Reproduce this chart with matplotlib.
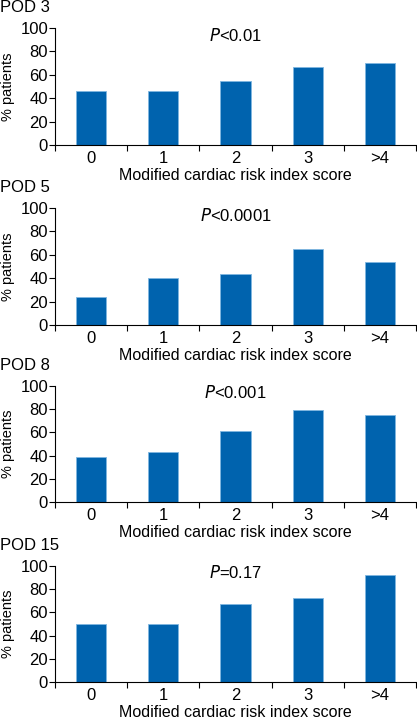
import numpy as np
import matplotlib.pyplot as plt

plt.rcParams['font.family'] = ['Liberation Sans', 'DejaVu Sans']

categories = ['0', '1', '2', '3', '>4']
panel_titles = ['POD 3', 'POD 5', 'POD 8', 'POD 15']
p_labels = ['<0.01', '<0.0001', '<0.001', '=0.17']
pod3 = [46, 46, 55, 67, 70]
pod5 = [24, 40, 44, 65, 54]
pod8 = [39, 43, 61, 79, 75]
pod15 = [50, 50, 67, 72, 92]
all_values = [pod3, pod5, pod8, pod15]

W, H = 417, 720
fig = plt.figure(figsize=(W / 100, H / 100), dpi=100)

# axes boxes in pixels: (top, bottom)
boxes = [(28, 145), (208, 325), (386, 502), (566, 682)]
left, right = 55, 416
bar_color = '#0063ae'
fs = 12

x = np.arange(len(categories))
for (top, bottom), title, plab, vals in zip(boxes, panel_titles, p_labels, all_values):
    ax = fig.add_axes([left / W, 1 - bottom / H, (right - left) / W, (bottom - top) / H])
    ax.bar(x, vals, width=0.42, color=bar_color, edgecolor='#7fb6e0', linewidth=0.6)
    ax.set_xlim(-0.5, 4.5)
    ax.set_ylim(0, 100)
    ax.set_yticks([0, 20, 40, 60, 80, 100])
    ax.set_xticks(np.arange(-0.5, 5, 1))
    ax.set_xticklabels([])
    ax.set_xticks(x, minor=True)
    ax.set_xticklabels(categories, minor=True)
    ax.tick_params(axis='x', which='major', direction='out', length=4, width=0.8)
    ax.tick_params(axis='x', which='minor', length=0, labelsize=fs, pad=4)
    ax.tick_params(axis='y', direction='out', length=4, width=0.8, labelsize=fs, pad=1)
    for s in ['top', 'right']:
        ax.spines[s].set_visible(False)
    ax.set_ylabel('% patients', fontsize=10.5, labelpad=4)
    ax.set_xlabel('Modified cardiac risk index score', fontsize=11.5, labelpad=2)
    ax.text(0.5, 0.94, '$\\it{P}$' + plab, transform=ax.transAxes, ha='center', va='center',
            fontsize=fs)
    fig.text(0, 1 - (top - 20) / H, title, ha='left', va='center', fontsize=fs)

fig.savefig('out.png', dpi=100)
